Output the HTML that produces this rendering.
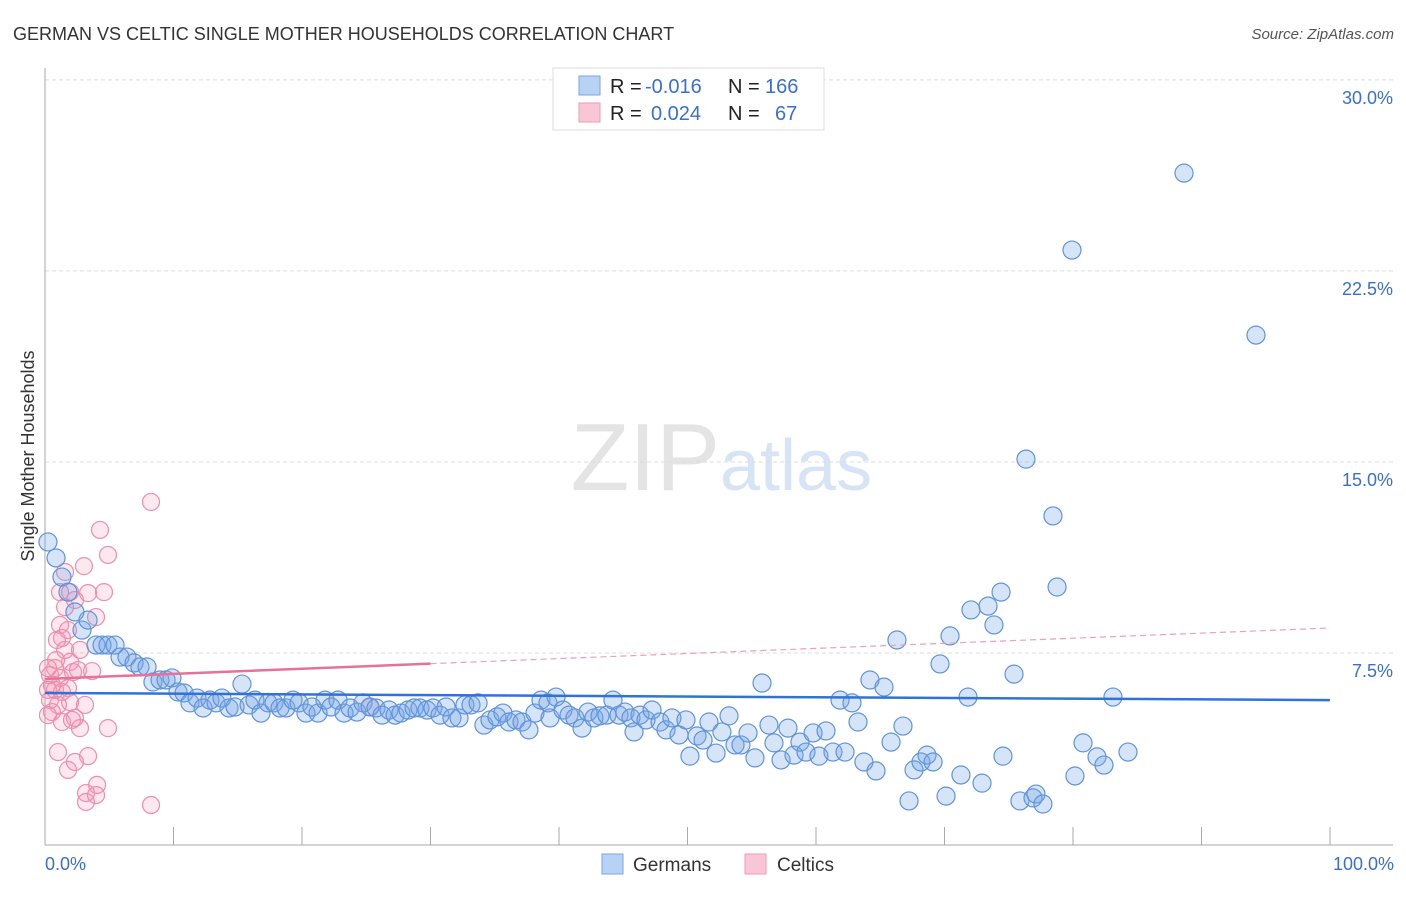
<!DOCTYPE html>
<html><head><meta charset="utf-8"><style>
body{margin:0;background:#fff;font-family:"Liberation Sans",sans-serif;}
svg text{font-family:"Liberation Sans",sans-serif;}
</style></head><body>
<svg id="chart" width="1406" height="892" viewBox="0 0 1406 892" xmlns="http://www.w3.org/2000/svg">
<text x="13" y="40" font-size="18" fill="#333">GERMAN VS CELTIC SINGLE MOTHER HOUSEHOLDS CORRELATION CHART</text>
<text x="1394" y="39" font-size="15" fill="#555" font-style="italic" text-anchor="end">Source: ZipAtlas.com</text>
<text x="720" y="490" font-size="96" fill="#e4e4e4" text-anchor="end" font-family="Liberation Serif">ZIP</text>
<text x="720" y="490" font-size="72" fill="#d6e4f5">atlas</text>
<g id="grid"></g>
<g id="axes"></g>
<g id="pink"></g>
<g id="blue"></g>
<g id="trends"></g>
<text transform="translate(34,456) rotate(-90)" font-size="18" fill="#333" text-anchor="middle">Single Mother Households</text>
<text x="45" y="870" font-size="18" fill="#3a6fd0">0.0%</text>
<text x="1394" y="870" font-size="18" fill="#3a6fd0" text-anchor="end">100.0%</text>
<g>
<rect x="553" y="68" width="271" height="62" fill="#fff" stroke="#ddd"/>
<rect x="579" y="76" width="21" height="19" fill="#b8d2f3" stroke="#7ba6e4"/>
<rect x="579" y="103" width="21" height="19" fill="#f9c6d5" stroke="#ef9ab5"/>
<text x="610" y="93" font-size="20" fill="#222">R = </text><text x="645" y="93" font-size="20" fill="#3a6fd0">-0.016</text>
<text x="728" y="93" font-size="20" fill="#222">N = </text><text x="765" y="93" font-size="20" fill="#3a6fd0">166</text>
<text x="610" y="120" font-size="20" fill="#222">R = </text><text x="651" y="120" font-size="20" fill="#3a6fd0">0.024</text>
<text x="728" y="120" font-size="20" fill="#222">N = </text><text x="775" y="120" font-size="20" fill="#3a6fd0">67</text>
</g>
<g>
<rect x="602" y="854" width="21" height="20" fill="#b8d2f3" stroke="#7ba6e4"/>
<text x="633" y="871" font-size="19" fill="#333">Germans</text>
<rect x="745" y="854" width="21" height="20" fill="#f9c6d5" stroke="#ef9ab5"/>
<text x="777" y="871" font-size="19" fill="#333">Celtics</text>
</g>
</svg>
<script>
const yTicks=[7.5,15,22.5,30];
const yTickLabels=["7.5%","15.0%","22.5%","30.0%"];
const xTicks=[0,10,20,30,40,50,60,70,80,90,100];
const germanX=[.23,.86,1.32,1.79,2.33,2.88,3.35,3.97,4.44,4.9,5.45,5.84,6.38,6.93,7.39,7.94,8.4,8.95,9.42,9.88,10.35,10.82,11.28,11.83,12.3,12.84,13.31,13.77,14.32,14.79,15.33,15.88,16.34,16.81,17.35,17.82,18.29,18.75,19.3,19.77,20.31,20.78,21.25,21.79,22.26,22.8,23.27,23.74,24.28,24.75,25.29,25.76,26.23,26.77,27.24,27.7,28.25,28.72,29.18,29.73,30.19,30.74,31.21,31.67,32.22,32.68,33.15,33.7,34.16,34.63,35.17,35.64,36.11,36.65,37.12,37.66,38.13,38.6,39.14,39.3,39.77,40.31,40.78,41.24,41.79,42.26,42.72,43.19,43.73,44.2,44.67,45.13,45.6,45.84,46.3,46.77,47.24,47.86,48.33,48.79,49.34,49.88,50.19,50.74,51.21,51.67,52.22,52.68,53.23,53.7,54.16,54.71,55.25,55.8,56.34,56.73,57.28,57.82,58.29,58.75,59.22,59.77,60.23,60.78,61.32,61.87,62.26,62.8,63.27,63.73,64.2,64.67,65.29,65.84,66.3,66.77,67.24,67.63,68.17,68.64,69.11,69.65,70.12,70.43,71.28,71.83,72.06,72.92,73.39,73.85,74.4,74.55,75.41,75.87,76.34,76.89,77.12,77.66,78.44,78.76,79.92,80.15,80.78,81.87,82.41,83.11,84.28,88.64,94.24];
const germanY=[11.86,11.23,10.48,9.89,9.11,8.4,8.79,7.81,7.81,7.81,7.81,7.34,7.34,7.11,6.95,6.95,6.36,6.44,6.44,6.52,5.97,5.93,5.54,5.73,5.34,5.65,5.54,5.73,5.34,5.38,6.28,5.46,5.65,5.14,5.54,5.54,5.34,5.34,5.65,5.54,5.14,5.38,5.14,5.65,5.38,5.65,5.14,5.34,5.18,5.54,5.38,5.34,5.06,5.26,5.06,5.14,5.26,5.34,5.34,5.26,5.34,5.06,5.38,4.95,4.95,5.46,5.46,5.54,4.67,4.87,4.99,5.14,4.79,4.87,4.79,4.48,5.14,5.65,5.54,4.95,5.77,5.26,5.06,4.95,4.55,5.18,4.95,5.03,5.06,5.65,5.06,5.18,4.95,4.4,5.06,4.87,5.26,4.79,4.48,4.95,4.28,4.87,3.45,4.24,4.08,4.79,3.57,4.4,5.03,3.89,3.89,4.36,3.38,6.32,4.67,3.97,3.3,4.55,3.49,4,3.61,4.36,3.45,4.44,3.61,5.65,3.61,5.54,4.79,3.22,6.44,2.87,6.16,4,8.01,4.63,1.69,2.91,3.22,3.49,3.22,7.07,1.88,8.17,2.71,5.77,9.19,2.39,9.34,8.6,9.89,3.45,6.67,1.69,15.11,1.81,1.96,1.57,12.88,10.09,23.32,2.67,3.97,3.42,3.1,5.77,3.61,26.34,19.98];
const celticX=[8.25,8.25,4.28,4.9,3.03,1.56,1.17,1.95,3.35,4.59,2.33,1.56,3.97,1.17,1.79,.93,1.32,2.72,1.95,.78,.39,1.17,2.18,2.57,3.66,.23,.78,1.79,.39,1.01,1.95,3.11,.54,1.32,2.33,2.72,4.9,3.35,1.01,1.79,2.33,4.05,3.19,3.19,3.97,.54,1.32,.86,1.56,.23,2.1,.23,25.29];
const celticY=[13.43,1.53,12.33,11.35,10.91,10.68,9.89,9.89,9.85,9.89,9.58,9.3,8.91,8.6,8.4,8.01,8.09,7.62,7.15,6.91,6.63,6.52,6.75,6.83,6.79,6.05,6.05,6.12,5.65,5.46,5.57,5.46,5.18,4.79,4.95,4.55,4.55,3.45,3.61,2.91,3.22,2.32,2,1.65,1.92,6.24,5.97,7.22,7.62,6.91,4.87,5.06,5.38];
const germanTrend=[5.93,5.65];
const celticTrend=[6.48,8.48];
const sx=v=>45+v*12.85;
const sy=v=>844-v*25.47;
const NS="http://www.w3.org/2000/svg";
function mk(tag,parent,attrs){const e=document.createElementNS(NS,tag);for(const k in attrs)e.setAttribute(k,attrs[k]);parent.appendChild(e);return e;}
const grid=document.getElementById('grid'),axes=document.getElementById('axes');
yTicks.forEach((t,i)=>{
 const l=mk('line',grid,{x1:45,x2:1393,y1:sy(t),y2:sy(t),stroke:'#ddd','stroke-dasharray':'4,3'});
 
 
 const tx=mk('text',grid,{x:1393,y:sy(t)+24,'font-size':18,fill:'#3a6fd0','text-anchor':'end'});
 tx.textContent=yTickLabels[i];
 
 
});
let a=mk('line',axes,{x1:45,x2:45,y1:68,y2:845,stroke:'#aaa'});


a=mk('line',axes,{x1:45,x2:1393,y1:845,y2:845,stroke:'#aaa'});


xTicks.forEach(t=>{
 const l=mk('line',axes,{x1:sx(t),x2:sx(t),y1:827,y2:845,stroke:'#aaa'});
 
 
});
const pg=document.getElementById('pink');
celticX.forEach((x,i)=>{
 const c=mk('circle',pg,{cx:sx(x),cy:sy(celticY[i]),r:8.5,fill:'rgba(244,150,180,0.22)',stroke:'#ec8fab','stroke-width':1.2});
 
 
});
const bg=document.getElementById('blue');
germanX.forEach((x,i)=>{
 const c=mk('circle',bg,{cx:sx(x),cy:sy(germanY[i]),r:9,fill:'rgba(120,165,230,0.3)',stroke:'#5f93dc','stroke-width':1.2});
 
 
});
const tg=document.getElementById('trends');
let t=mk('line',tg,{x1:sx(0),x2:sx(100),y1:sy(germanTrend[0]),y2:sy(germanTrend[1]),stroke:'#2f73d8','stroke-width':2.5});


const cAt=v=>celticTrend[0]+(celticTrend[1]-celticTrend[0])*v/100;
t=mk('line',tg,{x1:sx(0),x2:sx(30),y1:sy(cAt(0)),y2:sy(cAt(30)),stroke:'#e8709a','stroke-width':2.5});


t=mk('line',tg,{x1:sx(30),x2:sx(100),y1:sy(cAt(30)),y2:sy(cAt(100)),stroke:'#eaa0b8','stroke-width':1.2,'stroke-dasharray':'6,4'});


</script>
</body></html>
